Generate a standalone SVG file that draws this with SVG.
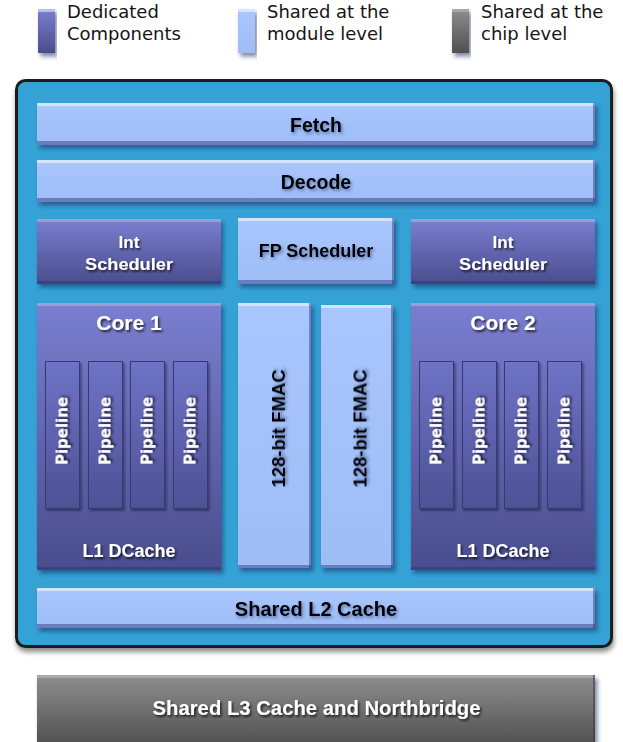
<svg xmlns="http://www.w3.org/2000/svg" width="623" height="742" viewBox="0 0 623 742">
<defs>
<style>
.lg{font-family:"DejaVu Sans",Verdana,sans-serif;font-size:18px;fill:#151515}
.t{font-family:"Liberation Sans",Arial,sans-serif;font-weight:bold;text-anchor:middle}
.w{fill:#fff;filter:url(#tsW)}
.b{fill:#000;filter:url(#tsB)}
.pl{font-family:"DejaVu Sans",Verdana,sans-serif;font-weight:bold;font-size:15px;fill:#fff;text-anchor:middle;filter:url(#tsW)}
.lb{fill:url(#gLight);filter:url(#bs)}
.dk{fill:url(#gDark);filter:url(#bs)}
.pp{fill:url(#gPipe);stroke:#363a72;stroke-width:1;filter:url(#ps)}
.gy{fill:url(#gGray);filter:url(#bs)}
.hl{fill:#fff;opacity:.5}
.hd{fill:#fff;opacity:.25}
.sh{fill:#2c3170;opacity:.45}
</style>
<linearGradient id="gLight" x1="0" y1="0" x2="0" y2="1">
<stop offset="0" stop-color="#a9c7fd"/><stop offset="1" stop-color="#9ebcf6"/>
</linearGradient>
<linearGradient id="gDark" x1="0" y1="0" x2="0" y2="1">
<stop offset="0" stop-color="#7a7ed0"/><stop offset="1" stop-color="#4a4d8d"/>
</linearGradient>
<linearGradient id="gPipe" x1="0" y1="0" x2="0" y2="1">
<stop offset="0" stop-color="#6f73c6"/><stop offset="1" stop-color="#4d5194"/>
</linearGradient>
<linearGradient id="gGray" x1="0" y1="0" x2="0" y2="1">
<stop offset="0" stop-color="#8e8e8e"/><stop offset="1" stop-color="#4f4f4f"/>
</linearGradient>
<filter id="bs" x="-10%" y="-10%" width="120%" height="130%">
<feDropShadow dx="2.5" dy="3.5" stdDeviation="2" flood-color="#0c2a5e" flood-opacity="0.55"/>
</filter>
<filter id="ps" x="-20%" y="-10%" width="150%" height="120%">
<feDropShadow dx="1.5" dy="2" stdDeviation="1.2" flood-color="#1a1d45" flood-opacity="0.6"/>
</filter>
<filter id="ms" x="-5%" y="-5%" width="110%" height="110%">
<feDropShadow dx="1" dy="4" stdDeviation="2.5" flood-color="#000" flood-opacity="0.45"/>
</filter>
<filter id="tsW" x="-20%" y="-30%" width="140%" height="170%">
<feDropShadow dx="1.5" dy="2" stdDeviation="1.2" flood-color="#000" flood-opacity="0.7"/>
</filter>
<filter id="tsB" x="-20%" y="-30%" width="140%" height="170%">
<feDropShadow dx="1.5" dy="2" stdDeviation="1.5" flood-color="#2a3a66" flood-opacity="0.55"/>
</filter>
</defs>
<rect width="623" height="742" fill="#fff"/>

<g id="legend">
<g id="legend-dedicated">
<rect x="38" y="9" width="17" height="44" fill="url(#gDark)" filter="url(#bs)"/>
<rect class="hl" x="38" y="9" width="17" height="3"/>
<text class="lg" x="67" y="18">Dedicated</text>
<text class="lg" x="67" y="40">Components</text>
</g>
<g id="legend-module">
<rect x="238" y="9" width="17" height="44" fill="url(#gLight)" filter="url(#bs)"/>
<rect class="hl" x="238" y="9" width="17" height="3"/>
<text class="lg" x="267" y="18">Shared at the</text>
<text class="lg" x="267" y="40">module level</text>
</g>
<g id="legend-chip">
<rect x="452" y="9" width="17" height="44" fill="url(#gGray)" filter="url(#bs)"/>
<rect class="hd" x="452" y="9" width="17" height="3"/>
<text class="lg" x="481" y="18">Shared at the</text>
<text class="lg" x="481" y="40">chip level</text>
</g>
</g>

<g id="module">
<rect x="16.5" y="80.5" width="595" height="566" rx="9" fill="#35a2d6" stroke="#1c1c1c" stroke-width="3" filter="url(#ms)"/>
</g>

<g id="fetch">
<rect class="lb" x="37" y="103" width="558" height="42"/>
<rect class="hl" x="37" y="103" width="558" height="3"/>
<rect class="sh" x="37" y="141" width="558" height="4"/>
<rect class="sh" x="593" y="103" width="2" height="42"/>
<text class="t b" x="316" y="132" font-size="19.5">Fetch</text>
</g>

<g id="decode">
<rect class="lb" x="37" y="160" width="558" height="42"/>
<rect class="hl" x="37" y="160" width="558" height="3"/>
<rect class="sh" x="37" y="198" width="558" height="4"/>
<rect class="sh" x="593" y="160" width="2" height="42"/>
<text class="t b" x="316" y="188.5" font-size="19.5">Decode</text>
</g>

<g id="int-scheduler-1">
<rect class="dk" x="37" y="219" width="184" height="65"/>
<rect class="hd" x="37" y="219" width="184" height="3"/>
<rect class="sh" x="37" y="281" width="184" height="3"/>
<text class="t w" x="129" y="248" font-size="17">Int</text>
<text class="t w" x="129" y="270" font-size="17" textLength="88" lengthAdjust="spacingAndGlyphs">Scheduler</text>
</g>

<g id="fp-scheduler">
<rect class="lb" x="238" y="218" width="156" height="66"/>
<rect class="hl" x="238" y="218" width="156" height="3"/>
<rect class="sh" x="238" y="280" width="156" height="4"/>
<rect class="sh" x="392" y="218" width="2" height="66"/>
<text class="t b" x="316" y="257" font-size="18">FP Scheduler</text>
</g>

<g id="int-scheduler-2">
<rect class="dk" x="411" y="219" width="184" height="65"/>
<rect class="hd" x="411" y="219" width="184" height="3"/>
<rect class="sh" x="411" y="281" width="184" height="3"/>
<text class="t w" x="503" y="248" font-size="17">Int</text>
<text class="t w" x="503" y="270" font-size="17" textLength="88" lengthAdjust="spacingAndGlyphs">Scheduler</text>
</g>

<g id="core-1">
<rect class="dk" x="37" y="303" width="184" height="267"/>
<rect class="hd" x="37" y="303" width="184" height="3"/>
<rect class="sh" x="37" y="567" width="184" height="3"/>
<text class="t w" x="129" y="329.5" font-size="21">Core 1</text>
<g id="core-1-pipelines">
<rect class="pp" x="45.5" y="361.5" width="34" height="147"/>
<rect class="pp" x="88.5" y="361.5" width="34" height="147"/>
<rect class="pp" x="130.5" y="361.5" width="34" height="147"/>
<rect class="pp" x="173.5" y="361.5" width="34" height="147"/>
<text class="pl" transform="translate(67.5 431) rotate(-90)">Pipeline</text>
<text class="pl" transform="translate(110.5 431) rotate(-90)">Pipeline</text>
<text class="pl" transform="translate(152.5 431) rotate(-90)">Pipeline</text>
<text class="pl" transform="translate(195.5 431) rotate(-90)">Pipeline</text>
</g>
<text class="t w" x="129" y="557" font-size="18">L1 DCache</text>
</g>

<g id="fmac-1">
<rect class="lb" x="238" y="303" width="73" height="265"/>
<rect class="hl" x="238" y="303" width="73" height="3"/>
<rect class="sh" x="238" y="565" width="73" height="3"/>
<rect class="sh" x="309" y="303" width="2" height="265"/>
<text class="t b" transform="translate(285 428.5) rotate(-90)" font-size="18.5">128-bit FMAC</text>
</g>

<g id="fmac-2">
<rect class="lb" x="321" y="305" width="72" height="263"/>
<rect class="hl" x="321" y="305" width="72" height="3"/>
<rect class="sh" x="321" y="565" width="72" height="3"/>
<rect class="sh" x="391" y="305" width="2" height="263"/>
<text class="t b" transform="translate(366.5 428.5) rotate(-90)" font-size="18.5">128-bit FMAC</text>
</g>

<g id="core-2">
<rect class="dk" x="411" y="303" width="184" height="267"/>
<rect class="hd" x="411" y="303" width="184" height="3"/>
<rect class="sh" x="411" y="567" width="184" height="3"/>
<text class="t w" x="503" y="329.5" font-size="21">Core 2</text>
<g id="core-2-pipelines">
<rect class="pp" x="419.5" y="361.5" width="34" height="147"/>
<rect class="pp" x="462.5" y="361.5" width="34" height="147"/>
<rect class="pp" x="504.5" y="361.5" width="34" height="147"/>
<rect class="pp" x="547.5" y="361.5" width="34" height="147"/>
<text class="pl" transform="translate(441.5 431) rotate(-90)">Pipeline</text>
<text class="pl" transform="translate(484.5 431) rotate(-90)">Pipeline</text>
<text class="pl" transform="translate(526.5 431) rotate(-90)">Pipeline</text>
<text class="pl" transform="translate(569.5 431) rotate(-90)">Pipeline</text>
</g>
<text class="t w" x="503" y="557" font-size="18">L1 DCache</text>
</g>

<g id="l2-cache">
<rect class="lb" x="37" y="588" width="558" height="40"/>
<rect class="hl" x="37" y="588" width="558" height="3"/>
<rect class="sh" x="37" y="624" width="558" height="4"/>
<rect class="sh" x="593" y="588" width="2" height="40"/>
<text class="t b" x="316" y="616" font-size="20">Shared L2 Cache</text>
</g>

<g id="l3-cache">
<rect class="gy" x="37" y="675" width="558" height="72"/>
<rect class="hd" x="37" y="675" width="558" height="3"/>
<rect x="593" y="675" width="2" height="72" fill="#333" opacity=".5"/>
<text class="t w" x="316.5" y="715" font-size="20.3">Shared L3 Cache and Northbridge</text>
</g>

<g id="connectors"/>
</svg>
